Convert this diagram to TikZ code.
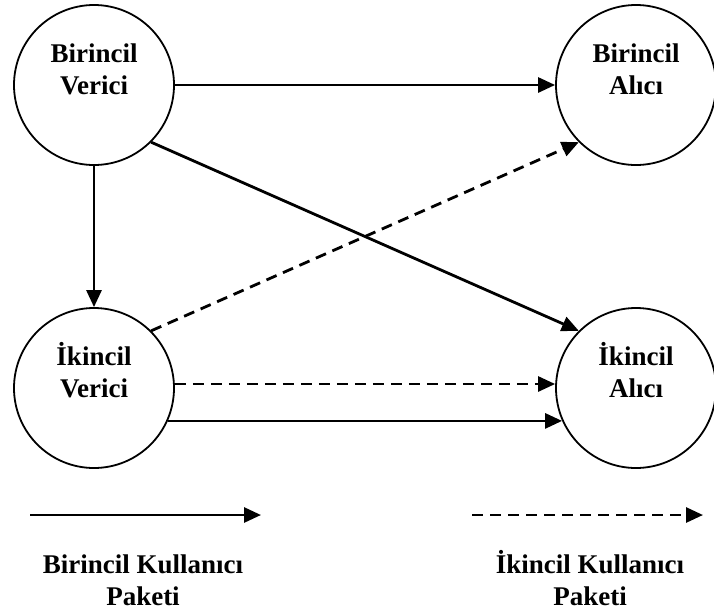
\documentclass[tikz,border=0pt]{standalone}
\usepackage{fontspec}
\setmainfont{Liberation Serif}
\usetikzlibrary{arrows.meta}
\newcommand{\accstrut}{\vphantom{İ}}
\tikzset{
  circnode/.style={draw=black, line width=1.8pt, circle, minimum size=160pt, inner sep=0pt},
  txt/.style={font=\bfseries\fontsize{27}{32}\selectfont, align=center, inner sep=0pt},
  conn/.style={line width=2.8pt, -{Triangle[length=17pt,width=15pt]}},
  dconn/.style={conn, dash pattern=on 11pt off 7pt},
}
\begin{document}
\begin{tikzpicture}[x=1pt,y=-1pt]
\useasboundingbox (0,0) rectangle (714,611);
\node[circnode] (bv) at (94,85) {};
\node[circnode] (ba) at (636,85) {};
\node[circnode] (iv) at (94,388) {};
\node[circnode] (ia) at (636,388) {};
\node[txt] (tbv) at ([yshift=18pt]bv.center) {\accstrut Birincil\\Verici};
\node[txt] (tba) at ([yshift=18pt]ba.center) {\accstrut Birincil\\Alıcı};
\node[txt] (tiv) at ([yshift=18pt]iv.center) {\accstrut İkincil\\Verici};
\node[txt] (tia) at ([yshift=18pt]ia.center) {\accstrut İkincil\\Alıcı};
\draw[conn] (bv.east) -- (ba.west);
\draw[conn] (bv.south) -- (iv.north);
\draw[conn] (bv.-45) -- (ia.135);
\draw[dconn] (iv.45) -- (ba.225);
\draw[dconn] ([yshift=4pt]iv.east) -- ([yshift=4pt]ia.west);
\draw[conn] (iv.-24) -- (ia.204);
\coordinate (l1a) at (30,515);
\coordinate (l1b) at (261,515);
\coordinate (l2a) at (472,515);
\coordinate (l2b) at (703,515);
\draw[conn] (l1a) -- (l1b);
\draw[dconn] (l2a) -- (l2b);
\node[txt] (lt1) at (143,578) {\accstrut Birincil Kullanıcı\\Paketi};
\node[txt] (lt2) at (590,578) {\accstrut İkincil Kullanıcı\\Paketi};
\end{tikzpicture}
\end{document}
